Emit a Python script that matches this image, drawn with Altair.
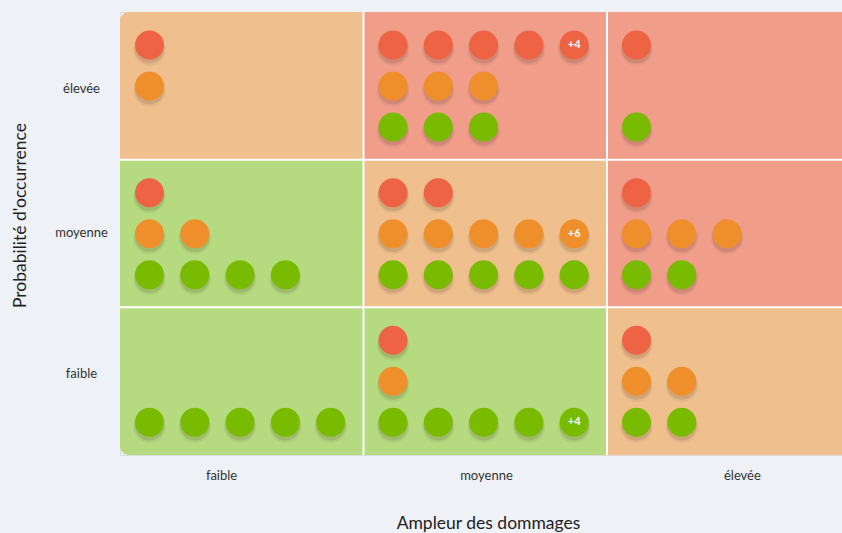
import altair as alt
import pandas as pd

# ---- data -------------------------------------------------------------
impact_levels = ["faible", "moyenne", "élevée"]          # columns, left -> right
probability_levels = ["élevée", "moyenne", "faible"]     # rows, top -> bottom
risk_levels = ["rouge", "orange", "vert"]

# background risk class of each cell [row][col]
cell_risk = [
    ["orange", "rouge", "rouge"],
    ["vert", "orange", "rouge"],
    ["vert", "vert", "orange"],
]
# number of items of each class in each cell [row][col]
red_counts = [[1, 8, 1], [1, 2, 1], [0, 1, 1]]
orange_counts = [[1, 3, 0], [2, 10, 3], [0, 1, 2]]
green_counts = [[0, 3, 1], [4, 5, 2], [5, 8, 2]]

# ---- styling -----------------------------------------------------------
bg_colors = ["#f09d8a", "#f0bf8e", "#b6da7f"]
dot_colors = ["#ee6343", "#ef8f2b", "#78bb00"]
FONT = "Lato"
COL_PX = 243.5
ROW_PX = 147.67
W, H = 722, 443
MAX_DOTS = 5
DOT_X0, DOT_DX = 29.5, 45.3
SLOT_Y = {"rouge": 33, "orange": 74, "vert": 115}
X_LABEL_POS = [0.415, 1.503, 2.554]
Y_LABEL_POS = [0.515, 1.49, 2.445]

# ---- tables --------------------------------------------------------------
cells = []
for r in range(3):
    for c in range(3):
        corner = "tl" if (r == 0 and c == 0) else ("bl" if (r == 2 and c == 0) else "none")
        cells.append({"col": c, "col2": c + 1, "row": r, "row2": r + 1,
                      "risk": cell_risk[r][c], "corner": corner})
cells_df = pd.DataFrame(cells)

vlines_df = pd.DataFrame({"x": [1, 2], "y": [0, 0], "y2": [3, 3]})
hlines_df = pd.DataFrame({"y": [1, 2], "x": [0, 0], "x2": [3, 3]})

dots = []
for level, counts in zip(risk_levels, [red_counts, orange_counts, green_counts]):
    for r in range(3):
        for c in range(3):
            n = counts[r][c]
            shown = min(n, MAX_DOTS)
            for i in range(shown):
                label = ""
                if n > MAX_DOTS and i == MAX_DOTS - 1:
                    label = f"+{n - (MAX_DOTS - 1)}"
                dots.append({
                    "x": c + (DOT_X0 + DOT_DX * i) / COL_PX,
                    "y": r + SLOT_Y[level] / ROW_PX,
                    "level": level,
                    "label": label,
                })
dots_df = pd.DataFrame(dots)

xscale = alt.Scale(domain=[0, W / COL_PX], nice=False, zero=False)
yscale = alt.Scale(domain=[0, 3], reverse=True, nice=False, zero=False)
bg_scale = alt.Scale(domain=risk_levels, range=bg_colors)
dot_scale = alt.Scale(domain=risk_levels, range=dot_colors)

x_label_expr = "[" + ",".join(f"'{v}'" for v in impact_levels) + "][floor(datum.value)]"
y_label_expr = "[" + ",".join(f"'{v}'" for v in probability_levels) + "][floor(datum.value)]"

x_axis = alt.Axis(values=X_LABEL_POS, labelExpr=x_label_expr, ticks=False, domain=False,
                  grid=False, labelFontSize=13, labelColor="#333333", labelPadding=14,
                  labelFont=FONT, title="Ampleur des dommages", titleFont=FONT,
                  titleFontSize=17.5, titleFontWeight="normal", titleColor="#222222",
                  titleX=368, titleY=68, titleBaseline="middle", titleAlign="center")
y_axis = alt.Axis(values=Y_LABEL_POS, labelExpr=y_label_expr, ticks=False, domain=False,
                  grid=False, labelFontSize=13, labelColor="#333333", labelPadding=39,
                  labelAlign="center", labelBaseline="middle", labelFont=FONT,
                  title="Probabilité d'occurrence", titleFont=FONT, titleFontSize=17.5,
                  titleFontWeight="normal", titleColor="#222222", titleAngle=270,
                  titleX=-100, titleY=203, titleBaseline="middle", titleAlign="center")

def X(field):
    return alt.X(field, scale=xscale, axis=x_axis)

def Y(field):
    return alt.Y(field, scale=yscale, axis=y_axis)

base_cells = alt.Chart(cells_df)

def cell_layer(corner, **mark_kw):
    return base_cells.transform_filter(alt.datum.corner == corner).mark_rect(
        **mark_kw
    ).encode(
        x=X("col:Q"), x2="col2:Q",
        y=Y("row:Q"), y2="row2:Q",
        color=alt.Color("risk:N", scale=bg_scale, legend=None),
    )

cells_plain = cell_layer("none", clip=True)
cells_tl = cell_layer("tl", cornerRadiusTopLeft=9)
cells_bl = cell_layer("bl", cornerRadiusBottomLeft=9)

vlines = alt.Chart(vlines_df).mark_rule(color="white", strokeWidth=2).encode(
    x=X("x:Q"), y=Y("y:Q"), y2="y2:Q")
hlines = alt.Chart(hlines_df).mark_rule(color="white", strokeWidth=2, clip=True).encode(
    y=Y("y:Q"), x=X("x:Q"), x2="x2:Q")

base_dots = alt.Chart(dots_df)
shadow_outer = base_dots.mark_circle(size=1050, opacity=0.06, color="#3a2a1a", yOffset=4.5).encode(
    x=X("x:Q"), y=Y("y:Q"),
)
shadow_inner = base_dots.mark_circle(size=880, opacity=0.12, color="#3a2a1a", yOffset=3.5).encode(
    x=X("x:Q"), y=Y("y:Q"),
)
dot_layer = base_dots.mark_circle(size=840, opacity=1).encode(
    x=X("x:Q"), y=Y("y:Q"),
    color=alt.Color("level:N", scale=dot_scale, legend=None),
)
labels = base_dots.transform_filter(alt.datum.label != "").mark_text(
    color="white", fontWeight="bold", fontSize=11, font=FONT, align="center", baseline="middle"
).encode(
    x=X("x:Q"), y=Y("y:Q"),
    text="label:N",
)

chart = alt.layer(cells_plain, cells_tl, cells_bl, vlines, hlines,
                  shadow_outer, shadow_inner, dot_layer, labels).resolve_scale(
    color="independent"
).properties(
    width=W, height=H,
    autosize=alt.AutoSizeParams(type="none"),
    padding={"left": 120, "top": 12, "right": 0, "bottom": 78},
    background="#eef1f6",
).configure_view(stroke=None).configure(font=FONT)

chart.save("out.html", embed_options={"renderer": "svg", "actions": False})
